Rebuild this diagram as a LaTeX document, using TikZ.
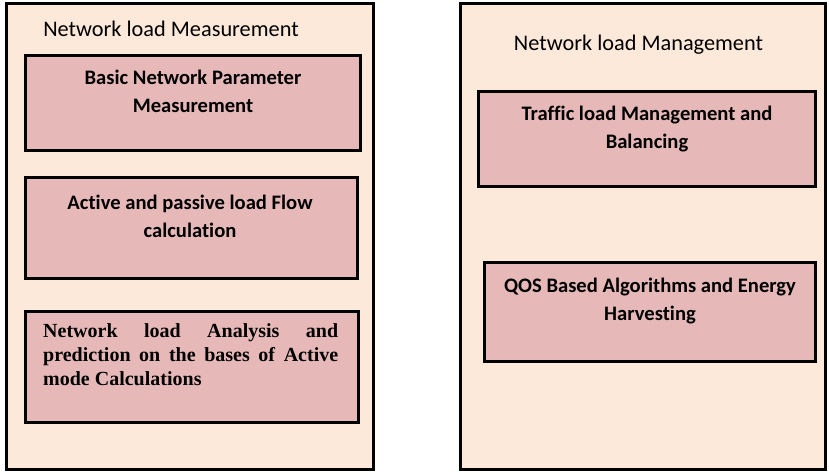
\documentclass[tikz,border=0pt]{standalone}
\usepackage{fontspec}
\setmainfont[Ligatures=NoCommon]{Carlito}
\newfontfamily\timesfont{Liberation Serif}
\usetikzlibrary{fit}
\definecolor{outerfill}{HTML}{FDE9D9}
\definecolor{innerfill}{HTML}{E6B9B8}
\tikzset{
  outerbox/.style={draw=black, line width=3pt, fill=outerfill, inner sep=0pt},
  innerbox/.style={draw=black, line width=3.2pt, fill=innerfill, inner sep=0pt},
  titletext/.style={inner sep=0pt, anchor=base, font=\fontsize{22.3}{26}\selectfont},
  boxtext/.style={inner sep=0pt, anchor=base, font=\fontsize{20.6}{24}\selectfont\bfseries},
  sertext/.style={inner sep=0pt, anchor=base west, font=\fontsize{20}{24}\selectfont\timesfont\bfseries}
}
\begin{document}
\begin{tikzpicture}[x=1pt,y=1pt]
\useasboundingbox (0,0) rectangle (829,-474);
% outer panels
\node[outerbox, fit={(6.5,-3.5) (373.5,-469.5)}] (L) {};
\node[outerbox, fit={(460.5,-3.5) (825.5,-469.5)}] (R) {};
% inner boxes
\node[innerbox, fit={(25.5,-55.5) (360.5,-150.5)}] (b1) {};
\node[innerbox, fit={(25.5,-177.5) (357.5,-278.5)}] (b2) {};
\node[innerbox, fit={(25.5,-311.5) (358.5,-422.5)}] (b3) {};
\node[innerbox, fit={(478.5,-91.5) (815.5,-186.5)}] (r1) {};
\node[innerbox, fit={(484.5,-262.5) (815.5,-361.5)}] (r2) {};
% titles
\node[titletext] (tL) at (171,-36) {Network load Measurement};
\node[titletext] (tR) at (638.5,-50) {Network load Management};
% box texts
\node[boxtext] (b1a) at (193,-84) {Basic Network Parameter};
\node[boxtext] (b1b) at (193,-112) {Measurement};
\node[boxtext] (b2a) at (190,-209) {Active and passive load Flow};
\node[boxtext] (b2b) at (190,-237) {calculation};
\node[sertext] (b3a) at (43,-337) {\makebox[295pt][s]{Network load Analysis and}};
\node[sertext] (b3b) at (43,-361) {\makebox[295pt][s]{prediction on the bases of Active}};
\node[sertext] (b3c) at (43,-385) {mode Calculations};
\node[boxtext] (r1a) at (647,-120) {Traffic load Management and};
\node[boxtext] (r1b) at (647,-148) {Balancing};
\node[boxtext] (r2a) at (650,-292) {QOS Based Algorithms and Energy};
\node[boxtext] (r2b) at (650,-320) {Harvesting};
\end{tikzpicture}
\end{document}
